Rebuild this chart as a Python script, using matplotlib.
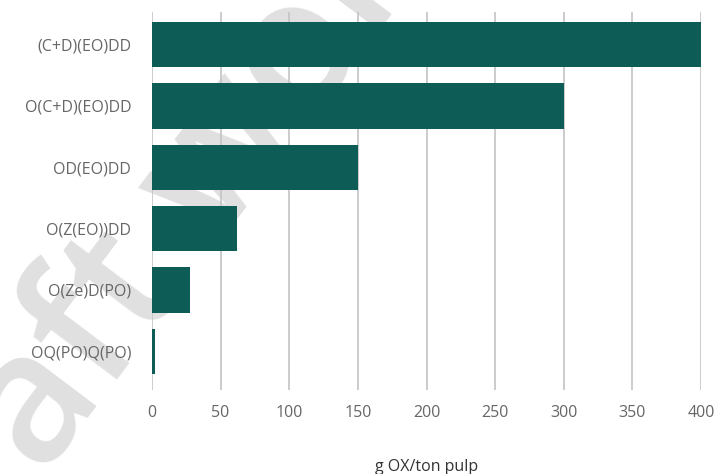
import matplotlib.pyplot as plt

categories = ['(C+D)(EO)DD', 'O(C+D)(EO)DD', 'OD(EO)DD', 'O(Z(EO))DD', 'O(Ze)D(PO)', 'OQ(PO)Q(PO)']
values = [400, 300, 150, 62, 28, 2]
x_ticks = [0, 50, 100, 150, 200, 250, 300, 350, 400]

bar_color = '#0d5c55'
text_color = '#666666'
grid_color = '#c4c4c4'

plt.rcParams['font.family'] = ['Open Sans', 'DejaVu Sans']

fig = plt.figure(figsize=(7.19, 4.74), dpi=100)
ax = fig.add_axes([152 / 719, 1 - 390 / 474, (701 - 152) / 719, (390 - 12) / 474])

y = list(range(len(categories)))
ax.barh(y, values, height=0.74, color=bar_color, zorder=3)

ax.set_xlim(0, 400)
ax.set_ylim(len(categories) - 0.37, -0.53)
ax.set_xticks(x_ticks)
ax.set_yticks(y)
ax.set_yticklabels(categories)
ax.tick_params(axis='both', length=0, colors=text_color, labelsize=11.5)
ax.tick_params(axis='x', pad=11)
ax.tick_params(axis='y', pad=15)
for spine in ax.spines.values():
    spine.set_visible(False)
ax.grid(axis='x', color=grid_color, linewidth=1.2)
ax.set_axisbelow(True)

ax.set_xlabel('g OX/ton pulp', fontsize=11.5, color='#333333', labelpad=27)

# faint watermark behind the grid and bars
ax.text(0.225, 0.49, 'Draft work', transform=fig.transFigure, rotation=53,
        fontsize=130, fontweight='semibold', color='#e0e0e0',
        ha='center', va='center', zorder=0.2, clip_on=False)

fig.savefig('out.png', dpi=100)
